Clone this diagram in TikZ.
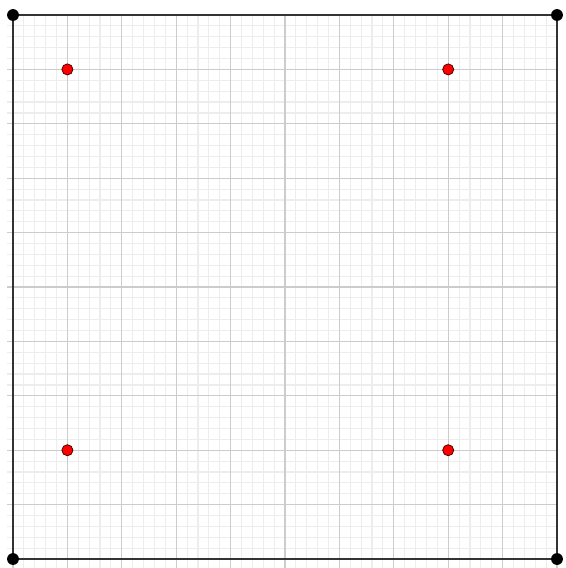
\documentclass[tikz,border=0pt]{standalone}
\usepackage{tikz}
\usetikzlibrary{positioning}

\tikzset{
  corner/.style={circle,fill=black,inner sep=0pt,minimum size=6.2pt},
  redpt/.style={circle,fill=red,draw=black!70!red,line width=0.4pt,inner sep=0pt,minimum size=5.8pt}
}

\begin{document}
\begin{tikzpicture}
  \useasboundingbox (-0.239,-0.165) rectangle (10.147,10.276);
  \fill[white] (-0.239,-0.165) rectangle (10.147,10.276);
  % fine and major grid
  \draw[black!7,line width=0.6pt] (-0.11,-0.165) grid[step=0.2] (10,10);
  \draw[black!20,line width=0.7pt] (-0.11,-0.165) grid[step=1] (10,10);
  % square
  \node[corner] (A) at (0,0) {};
  \node[corner] (B) at (10,0) {};
  \node[corner] (C) at (10,10) {};
  \node[corner] (D) at (0,10) {};
  \draw[black!80,line width=1.5pt] (A) -- (B) -- (C) -- (D) -- (A);
  % points
  \node[redpt] (p1) at (1,9) {};
  \node[redpt] (p2) at (8,9) {};
  \node[redpt] (p3) at (1,2) {};
  \node[redpt] (p4) at (8,2) {};
\end{tikzpicture}
\end{document}
